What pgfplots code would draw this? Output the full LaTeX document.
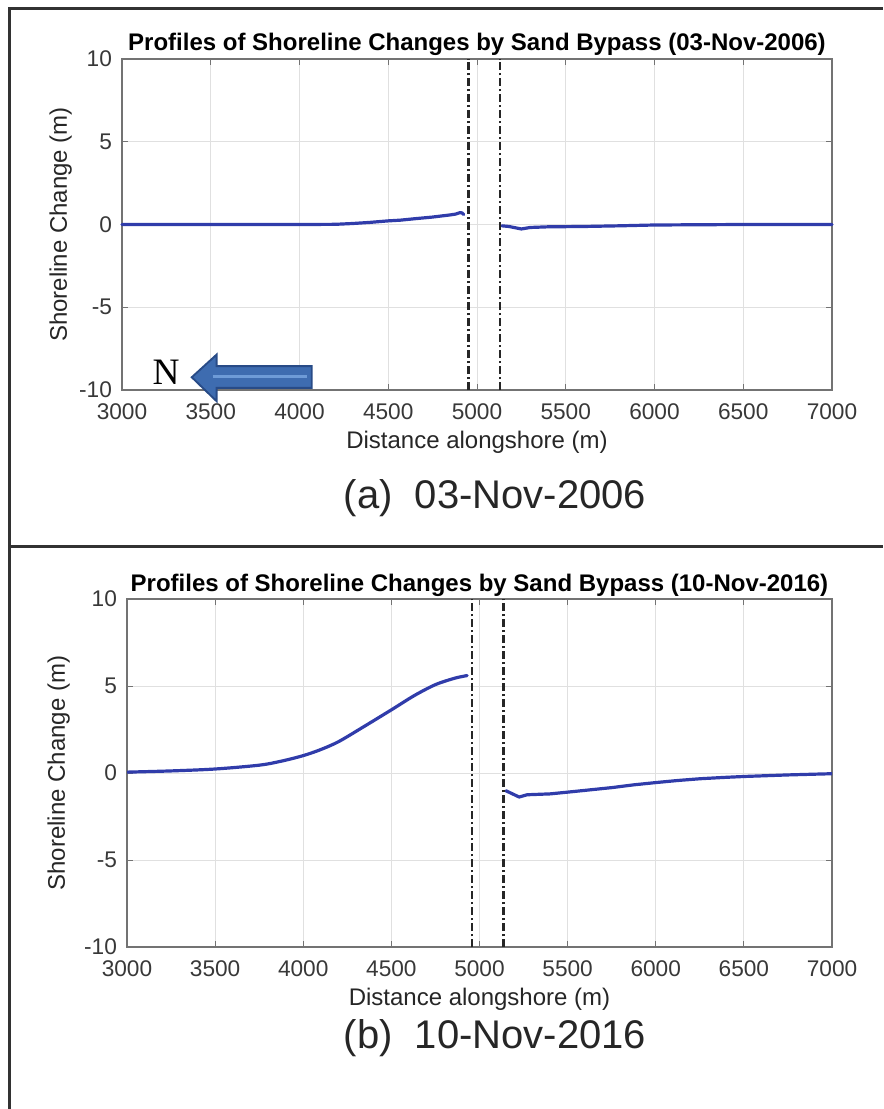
\documentclass[border=0pt]{standalone}
\usepackage{pgfplots}
\pgfplotsset{compat=1.18}
\usepackage{fontspec}
\setmainfont{Liberation Sans}
\newfontfamily\serifN{Liberation Serif}
\definecolor{lineblue}{RGB}{48,60,170}
\definecolor{arrowfill}{RGB}{62,108,176}
\definecolor{arrowedge}{RGB}{40,75,135}
\definecolor{arrowlight}{RGB}{110,155,215}
\definecolor{framegray}{RGB}{50,50,50}
\pgfplotsset{
  matlabax/.style={
    scale only axis,
    width=532.5pt, height=248.25pt,
    xmin=3000, xmax=7000, ymin=-10, ymax=10,
    xtick={3000,3500,...,7000}, ytick={-10,-5,0,5,10},
    scaled x ticks=false,
    /pgf/number format/1000 sep={},
    /pgf/number format/assume math mode=true,
    tick align=inside, tick pos=both,
    major tick length=4.5pt,
    axis line style={black!55, line width=0.8pt},
    every tick/.style={black!55, line width=0.6pt},
    grid=major,
    major grid style={black!12, line width=0.6pt},
    tick label style={font=\fontsize{17}{19}\selectfont, text=black!78},
    xticklabel style={yshift=-7pt},
    yticklabel style={xshift=-4pt},
    title style={font=\bfseries\fontsize{18}{21}\selectfont, at={(axis description cs:0.5,1)}, anchor=base, yshift=0pt},
    xlabel style={font=\fontsize{18}{21}\selectfont, text=black!85, at={(axis description cs:0.5,0)}, anchor=base, yshift=-44pt},
    ylabel style={font=\fontsize{18}{21}\selectfont, text=black!85, at={(axis description cs:-0.0775,0.5)}, anchor=base},
    xlabel={Distance alongshore (m)},
    ylabel={Shoreline Change (m)},
  },
  shore/.style={lineblue, line width=2.4pt, line join=round, line cap=round},
  jetty/.style={black!85, line width=2.1pt, dash pattern=on 6pt off 2pt on 2pt off 2pt},
}
\begin{document}
\begin{tikzpicture}
\path[use as bounding box] (0pt,0pt) rectangle (662.25pt,-831.75pt);
% frame
\draw[framegray, line width=2.25pt] (6.75pt,-831.75pt) -- (6.75pt,-6.75pt) -- (662.25pt,-6.75pt);
\draw[framegray, line width=2.25pt] (6.75pt,-409.5pt) -- (662.25pt,-409.5pt);

% ---------- panel (a) ----------
\begin{axis}[matlabax, at={(91.5pt,-292.5pt)}, anchor=south west, clip=false,
  title={Profiles of Shoreline Changes by Sand Bypass (03-Nov-2006)}]
\addplot[shore] coordinates {
 (3000,0) (3500,0) (4000,0) (4200,0.01) (4300,0.06) (4400,0.13) (4500,0.22)
 (4566,0.26) (4650,0.35) (4750,0.45) (4850,0.58) (4880,0.63) (4905,0.72)
 (4915,0.7) (4925,0.6)};
\addplot[shore] coordinates {
 (5140,-0.08) (5180,-0.12) (5250,-0.27) (5300,-0.18) (5400,-0.14) (5600,-0.12)
 (5800,-0.08) (6000,-0.03) (6500,0.0) (7000,0.0)};
\addplot[jetty] coordinates {(4952,-10) (4952,10)};
\addplot[jetty] coordinates {(5130,-10) (5130,10)};
% north arrow
\draw[fill=arrowfill, draw=arrowedge, line width=1.4pt, line join=miter]
  (axis cs:3393,-9.23) -- (axis cs:3533,-7.86) -- (axis cs:3533,-8.56)
  -- (axis cs:4069,-8.56) -- (axis cs:4069,-9.87) -- (axis cs:3533,-9.87)
  -- (axis cs:3533,-10.68) -- cycle;
\draw[arrowlight, line width=2.5pt] (axis cs:3510,-9.2) -- (axis cs:4045,-9.2);
\node[font=\serifN\fontsize{28}{30}\selectfont] at (axis cs:3248,-8.95) {N};
\end{axis}
\node[font=\fontsize{30}{34}\selectfont, text=black!85] at (371.25pt,-373.5pt) {(a)\ \ 03-Nov-2006};

% ---------- panel (b) ----------
\begin{axis}[matlabax, at={(95.25pt,-710.25pt)}, anchor=south west, height=261pt, width=528.75pt,
  ylabel style={at={(axis description cs:-0.088,0.5)}},
  title={Profiles of Shoreline Changes by Sand Bypass (10-Nov-2016)}]
\addplot[shore, smooth, tension=0.5] coordinates {
 (3000,0.05) (3250,0.12) (3500,0.23) (3750,0.45) (3875,0.68) (4000,1.0) (4100,1.35)
 (4200,1.8) (4330,2.58) (4500,3.63) (4630,4.45) (4750,5.08) (4860,5.45) (4930,5.6)};
\addplot[shore] coordinates {
 (5150,-1.02) (5225,-1.38) (5270,-1.25) (5400,-1.2) (5500,-1.1) (5625,-0.97) (5750,-0.84)
 (5875,-0.68) (6000,-0.55) (6125,-0.43) (6250,-0.33) (6375,-0.26) (6500,-0.2) (6750,-0.11) (7000,-0.04)};
\addplot[jetty] coordinates {(4957,-10) (4957,10)};
\addplot[jetty] coordinates {(5134,-10) (5134,10)};
\end{axis}
\node[font=\fontsize{30}{34}\selectfont, text=black!85] at (371.25pt,-778.5pt) {(b)\ \ 10-Nov-2016};
\end{tikzpicture}
\end{document}
